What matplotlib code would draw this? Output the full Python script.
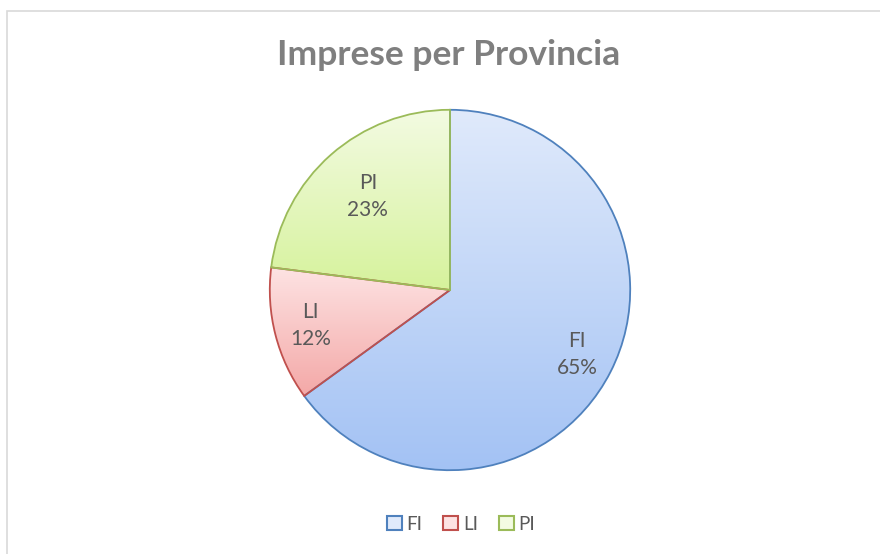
import numpy as np
import matplotlib
matplotlib.use("Agg")
import matplotlib.pyplot as plt
from matplotlib.colors import LinearSegmentedColormap
from matplotlib.patches import Rectangle

# data
categories = ["FI", "LI", "PI"]
shares = [65, 12, 23]
label_dist = [0.79, 0.80, 0.69]

# colours (top of gradient, bottom of gradient, edge)
grad_top = ["#e0eafb", "#fde3e3", "#f3fbe2"]
grad_bot = ["#a3c2f4", "#f4a8a7", "#d6f29c"]
edges = ["#4f81bd", "#c0504d", "#9bbb59"]

plt.rcParams['font.family'] = ['Lato', 'DejaVu Sans']

W, H = 880, 554
fig = plt.figure(figsize=(W / 100, H / 100), dpi=100)

# chart border
fig.patches.append(Rectangle((7 / W, -0.05), 1.1, 1 - 11 / H + 0.05,
                             transform=fig.transFigure, fill=False,
                             edgecolor="#d9d9d9", linewidth=1.2))

fig.text(449 / W, 1 - 55 / H, "Imprese per Provincia", ha="center", va="center",
         fontsize=25.5, fontweight="bold", color="#7f7f7f")

cx, cy, r = 450, 290, 182
ax = fig.add_axes([(cx - r) / W, 1 - (cy + r) / H, 2 * r / W, 2 * r / H])
wedges, _ = ax.pie(shares, startangle=90, counterclock=False, radius=1,
                   wedgeprops=dict(linewidth=1.3))

grad = np.linspace(0, 1, 256).reshape(-1, 1)
for i, w in enumerate(wedges):
    w.set_facecolor("none")
    w.set_edgecolor(edges[i])
    w.set_zorder(3)
    verts = w.get_path().vertices
    x0, y0 = verts.min(axis=0)
    x1, y1 = verts.max(axis=0)
    cmap = LinearSegmentedColormap.from_list("g%d" % i, [grad_top[i], grad_bot[i]])
    im = ax.imshow(grad, cmap=cmap, extent=[x0, x1, y0, y1], aspect="auto",
                   origin="upper", zorder=2, interpolation="bilinear")
    im.set_clip_path(w)
    mid = np.deg2rad((w.theta1 + w.theta2) / 2)
    d = label_dist[i]
    ax.text(d * np.cos(mid), d * np.sin(mid),
            "%s\n%d%%" % (categories[i], shares[i]),
            ha="center", va="center", fontsize=15, color="#595959",
            linespacing=1.45, zorder=5)
ax.set_xlim(-1.01, 1.01)
ax.set_ylim(-1.01, 1.01)
ax.set_aspect("equal")
ax.axis("off")

# legend
handles = [Rectangle((0, 0), 1, 1, facecolor=grad_top[i], edgecolor=edges[i], linewidth=1.5)
           for i in range(len(categories))]
fig.legend(handles, categories, loc="center", bbox_to_anchor=(461 / W, 1 - 524 / H),
           ncol=3, frameon=False, fontsize=13.5, labelcolor="#595959",
           handlelength=0.8, handleheight=0.8, handletextpad=0.25, columnspacing=1.1)

fig.savefig("out.png", dpi=100, facecolor="white")
